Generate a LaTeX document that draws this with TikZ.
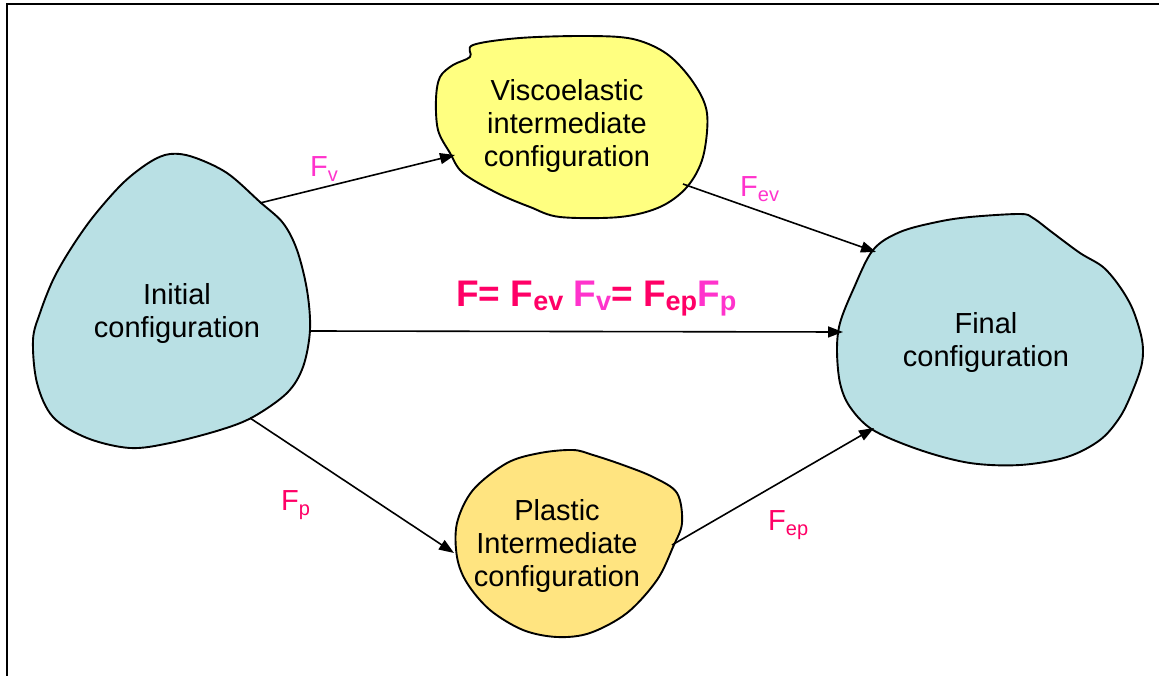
\documentclass[tikz,border=0pt]{standalone}
\usepackage{fontspec}
\setmainfont{Liberation Sans}
\usetikzlibrary{arrows.meta}
\definecolor{blobblue}{RGB}{185,224,228}
\definecolor{blobyellow}{RGB}{255,255,128}
\definecolor{bloborange}{RGB}{255,228,128}
\definecolor{deeppink}{RGB}{255,0,102}
\definecolor{lightmag}{RGB}{255,51,204}
\newcommand{\smallsub}[1]{\raisebox{-5pt}{\fontsize{20}{20}\selectfont #1}}
\newcommand{\bigsub}[1]{\raisebox{-4.5pt}{\fontsize{27}{27}\selectfont\bfseries #1}}
\begin{document}
\begin{tikzpicture}[x=1pt,y=-1pt,
  blob/.style={draw=black,line width=1.9pt,line join=round},
  conn/.style={line width=1.6pt,-{Triangle[length=15pt,width=11pt]}},
  body/.style={align=center,font=\fontsize{29}{33}\selectfont,text=black,inner sep=0pt,anchor=center},
  lbl/.style={font=\fontsize{29}{29}\selectfont,inner sep=0pt,anchor=base west}]
\useasboundingbox (0,0) rectangle (1159,676);
% frame
\draw[line width=2.2pt] (7,677) -- (7,4) -- (1160,4);

% Initial configuration blob
\path[blob,fill=blobblue] plot[smooth cycle,tension=0.55] coordinates {
 (170,154) (193,157) (227,173) (260,202) (283,223) (297,250) (307,290) (310,330)
 (303,367) (287,393) (253,417) (220,430) (170,443) (130,448) (87,438) (53,417)
 (37,383) (33,340) (40,313) (53,280) (70,250) (93,217) (123,183) (150,162)};
% Viscoelastic blob
\path[blob,fill=blobyellow] plot[smooth cycle,tension=0.55] coordinates {
 (473,45) (470,57) (453,65) (440,77) (436,99) (438,130) (450,153) (463,173)
 (497,193) (530,207) (560,217) (620,217) (660,207) (687,187) (703,157) (707,113)
 (693,82) (667,54) (633,39) (587,36) (520,38)};
% Final blob
\path[blob,fill=blobblue] plot[smooth cycle,tension=0.55] coordinates {
 (1020,214) (1033,218) (1053,233) (1080,253) (1103,267) (1120,287) (1133,310)
 (1142,340) (1142,363) (1133,390) (1120,417) (1100,440) (1067,457) (1020,465)
 (970,463) (920,450) (873,430) (850,407) (840,383) (837,350) (840,323) (853,290)
 (873,250) (900,232) (937,222) (970,217)};
% Plastic blob
\path[blob,fill=bloborange] plot[smooth cycle,tension=0.55] coordinates {
 (573,450) (593,455) (623,465) (653,477) (677,493) (682,523) (673,547) (657,580)
 (627,613) (590,633) (557,637) (523,630) (490,610) (467,583) (457,557) (457,523)
 (473,490) (507,463) (540,453)};

% texts
\node[body] (ini) at (177,314) {Initial\\configuration};
\node[body] (vis) at (567,126) {Viscoelastic\\intermediate\\configuration};
\node[body] (fin) at (986,343) {Final\\configuration};
\node[body] (pla) at (557,546) {Plastic\\Intermediate\\configuration};

% connector end points on blob outlines
\coordinate (ini-ne) at (260,203);
\coordinate (ini-e)  at (310,331);
\coordinate (ini-se) at (250,418);
\coordinate (vis-w)  at (455,155);
\coordinate (vis-se) at (683,184);
\coordinate (fin-nw) at (876,252);
\coordinate (fin-w)  at (843,332);
\coordinate (fin-sw) at (874,428);
\coordinate (pla-w)  at (454,553);
\coordinate (pla-e)  at (672,545);

\draw[conn] (ini-ne) -- (vis-w);
\draw[conn] (vis-se) -- (fin-nw);
\draw[conn] (ini-e) -- (fin-w);
\draw[conn] (ini-se) -- (pla-w);
\draw[conn] (pla-e) -- (fin-sw);

% labels
\node[lbl,text=lightmag] (lv) at (310,177) {F\smallsub{v}};
\node[lbl,text=lightmag] (lev) at (740,197) {F\smallsub{ev}};
\node[lbl,text=deeppink] (lp) at (281,510) {F\smallsub{p}};
\node[lbl,text=deeppink] (lep) at (768,530) {F\smallsub{ep}};
\node[inner sep=0pt,anchor=base west,font=\fontsize{37}{37}\selectfont\bfseries] (eq) at (456,306)
 {\color{deeppink}F= F\bigsub{ev} \color{lightmag}F\bigsub{v}\color{deeppink}= F\bigsub{ep}\color{lightmag}F\bigsub{p}};
\end{tikzpicture}
\end{document}
